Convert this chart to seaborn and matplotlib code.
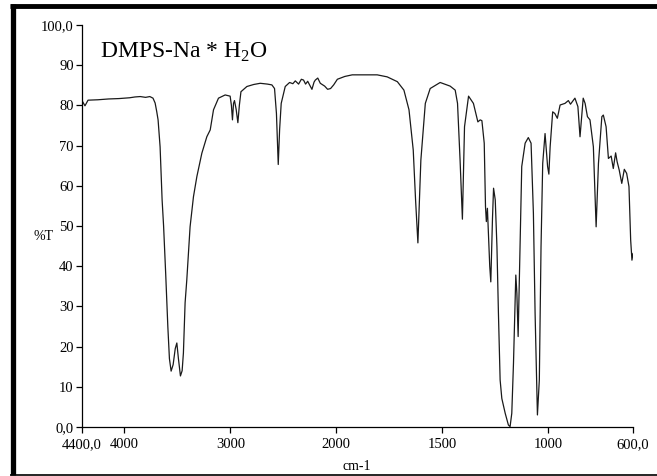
import numpy as np
import pandas as pd
import matplotlib
matplotlib.use("Agg")
import matplotlib.pyplot as plt
from matplotlib.lines import Line2D
import seaborn as sns

# IR spectrum (wavenumber in cm-1, transmittance in %T)
wavenumber = [
    4400, 4372, 4343, 4250, 4150, 4050, 3950, 3900, 3850, 3800, 3760, 3730, 3710,
    3695, 3682, 3663, 3644, 3630, 3610, 3590, 3575, 3559, 3540, 3520, 3505, 3490,
    3471, 3455, 3443, 3427, 3411, 3380, 3348, 3316, 3269, 3222, 3190, 3159, 3112,
    3049, 3002, 2990, 2980, 2970, 2961, 2945, 2929, 2915, 2900, 2844, 2780, 2718,
    2650, 2608, 2583, 2565, 2548, 2535, 2520, 2482, 2441, 2410, 2387, 2356, 2330,
    2309, 2290, 2270, 2230, 2210, 2198, 2175, 2151, 2110, 2082, 2054, 2025, 1995,
    1960, 1925, 1850, 1807, 1760, 1712, 1681, 1657, 1637, 1626, 1615, 1601, 1580,
    1557, 1510, 1463, 1439, 1428, 1416, 1405, 1395, 1376, 1353, 1332, 1321, 1313,
    1302, 1296, 1292, 1287, 1276, 1271, 1263, 1258, 1250, 1242, 1235, 1227, 1219,
    1203, 1188, 1180, 1172, 1164, 1153, 1148, 1142, 1133, 1125, 1109, 1094, 1081,
    1070, 1062, 1051, 1042, 1034, 1026, 1015, 1010, 1003, 997, 991, 979, 969, 957,
    944, 921, 905, 895, 874, 860, 850, 835, 826, 815, 803, 787, 774, 763, 747, 740,
    727, 716, 703, 693, 682, 675, 665, 653, 641, 630, 619, 611, 605, 600,
]
transmittance = [
    81.2, 79.9, 81.3, 81.4, 81.6, 81.7, 81.9, 82.1, 82.2, 82.0, 82.2, 81.8, 80.6,
    78.5, 76.4, 69.7, 56.5, 50.0, 38.0, 25.0, 17.0, 13.9, 15.5, 19.5, 20.9, 17.0,
    12.7, 14.0, 18.4, 30.9, 36.6, 49.8, 57.3, 62.3, 68.1, 72.2, 73.9, 78.9, 81.8,
    82.6, 82.3, 80.0, 76.4, 80.5, 81.2, 79.0, 75.7, 80.0, 83.4, 84.7, 85.2, 85.5,
    85.3, 85.1, 84.2, 78.0, 65.3, 74.0, 80.5, 84.7, 85.7, 85.4, 86.1, 85.3, 86.5,
    86.3, 85.3, 86.0, 84.0, 85.8, 86.3, 86.8, 85.5, 84.8, 84.0, 84.2, 85.1, 86.5,
    87.2, 87.6, 87.6, 87.6, 87.1, 85.9, 83.8, 78.9, 68.9, 56.5, 45.8, 66.4, 80.5,
    84.2, 85.7, 84.8, 83.8, 80.5, 66.4, 51.7, 74.7, 82.3, 80.5, 75.9, 76.4, 76.2,
    70.6, 54.8, 51.1, 54.4, 40.0, 36.1, 52.0, 59.4, 56.5, 44.8, 28.3, 11.7, 7.1,
    3.4, 0.5, 0.1, 3.4, 15.8, 37.8, 33.3, 22.5, 44.8, 64.8, 70.6, 72.0, 70.6,
    53.2, 28.3, 3.0, 11.7, 44.8, 65.6, 73.0, 69.7, 64.8, 62.9, 69.7, 78.4, 78.0, 76.8,
    80.1, 80.5, 81.2, 80.3, 81.8, 79.7, 72.2, 81.8, 80.5, 77.2, 76.4, 69.7, 49.8, 65.6, 77.2, 77.6,
    74.7, 66.8, 67.4, 64.3, 68.2, 66.0, 63.9, 60.6, 64.1, 63.1, 59.8, 46.5, 41.5, 43.2,
]

x_ticks = [4400, 4000, 3000, 2000, 1500, 1000, 600]
x_tick_labels = ["4400,0", "4000", "3000", "2000", "1500", "1000", "600,0"]
y_ticks = [0, 10, 20, 30, 40, 50, 60, 70, 80, 90, 100]
y_tick_labels = ["0,0", "10", "20", "30", "40", "50", "60", "70", "80", "90", "100,0"]

df = pd.DataFrame({"wn": wavenumber, "T": transmittance})

sns.set_theme(style="white")
plt.rcParams["font.family"] = ["Liberation Serif", "DejaVu Serif"]
plt.rcParams["mathtext.fontset"] = "custom"
plt.rcParams["mathtext.rm"] = "Liberation Serif"
plt.rcParams["text.color"] = "black"


# spectrometer axis: scale doubles below 2000 cm-1
def fwd(w):
    w = np.asarray(w, dtype=float)
    return np.where(w >= 2000, w - 2000, 2 * (w - 2000))


def inv(p):
    p = np.asarray(p, dtype=float)
    return np.where(p >= 0, p + 2000, p / 2 + 2000)


fig = plt.figure(figsize=(6.57, 4.76), dpi=100)
ax = fig.add_axes([82 / 657, 49 / 476, 551 / 657, 402 / 476])

sns.lineplot(data=df, x="wn", y="T", ax=ax, color="#1a1a1a", lw=0.9,
             sort=False, estimator=None)

ax.set_xscale("function", functions=(fwd, inv))
ax.set_xlim(4400, 600)
ax.set_ylim(0, 100)
ax.set_xticks(x_ticks)
ax.set_xticklabels(x_tick_labels)
ax.set_yticks(y_ticks)
ax.set_yticklabels(y_tick_labels)
ax.minorticks_off()
ax.tick_params(axis="both", direction="out", length=4, width=0.9, color="black",
               labelsize=10.5, labelcolor="black", pad=2, left=True, bottom=True)
ax.tick_params(axis="x", pad=4)

sns.despine(ax=ax)
for side in ["left", "bottom"]:
    ax.spines[side].set_color("black")
    ax.spines[side].set_linewidth(0.9)

ax.set_xlabel("")
ax.set_ylabel("")
fig.text(44 / 657, 1 - 236 / 476, "%T", ha="center", va="center", fontsize=10)
fig.text(357 / 657, 1 - 467 / 476, "cm-1", ha="center", va="center", fontsize=10)

ax.text(0.032, 0.933, r"DMPS-Na * H$_\mathrm{2}$O", transform=ax.transAxes,
        ha="left", va="center", fontsize=17)

# page frame: heavy top and left edges, thin bottom edge
fig.add_artist(Line2D([10 / 657, 1], [1 - 6 / 476, 1 - 6 / 476], color="black", lw=3.5,
                      transform=fig.transFigure, solid_capstyle="butt"))
fig.add_artist(Line2D([12.5 / 657, 12.5 / 657], [1 - 4 / 476, 1 / 476], color="black",
                      lw=3.8, transform=fig.transFigure, solid_capstyle="butt"))
fig.add_artist(Line2D([10 / 657, 1], [1.2 / 476, 1.2 / 476], color="black", lw=1.2,
                      transform=fig.transFigure, solid_capstyle="butt"))

fig.savefig("out.png", dpi=100, facecolor="white")
